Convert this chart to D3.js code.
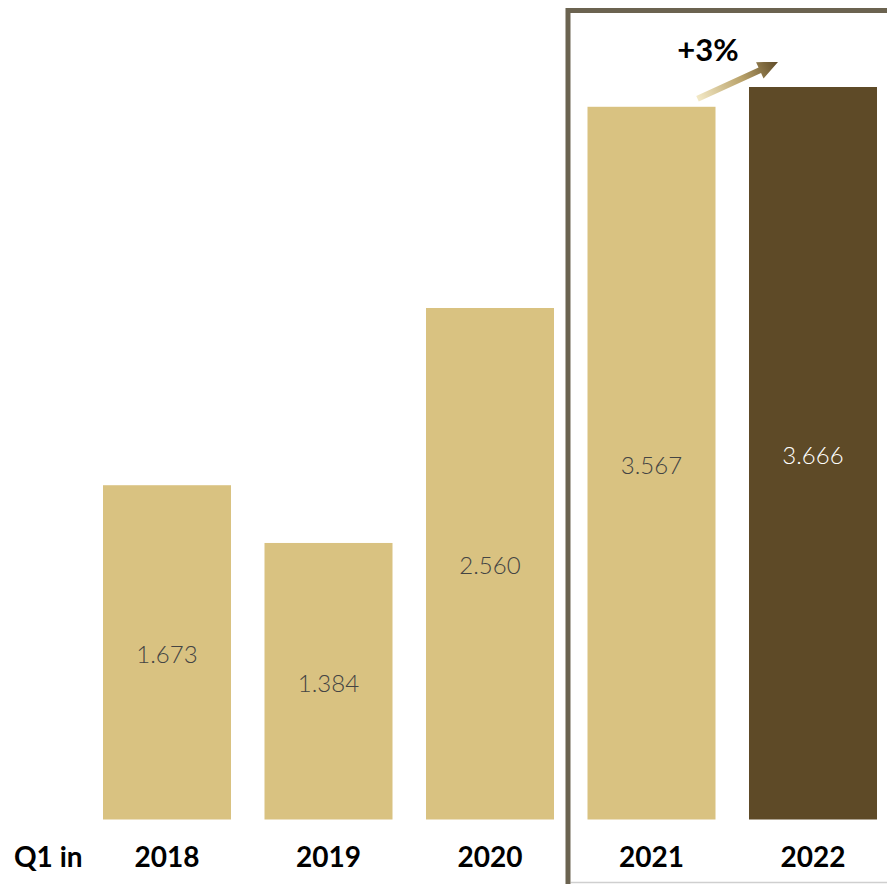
<!DOCTYPE html>
<html>
<head>
<meta charset="utf-8">
<script src="https://cdn.jsdelivr.net/npm/d3@7"></script>
<style>
  html, body { margin: 0; padding: 0; background: #fff; }
  svg { display: block; }
</style>
</head>
<body>
<div id="chart"></div>
<script>
// Q1 totals per year
const years = ["2018", "2019", "2020", "2021", "2022"];
const values = [1673, 1384, 2560, 3567, 3666];
const rowLabel = "Q1 in";
const changeLabel = "+3%";
const highlightYears = ["2021", "2022"];

const W = 887, H = 884;
const gold = "#d9c281", brown = "#5e4a27";

const svg = d3.select("#chart").append("svg")
  .attr("width", W).attr("height", H);

const defs = svg.append("defs");
const grad = defs.append("linearGradient")
  .attr("id", "arrowGrad")
  .attr("gradientUnits", "userSpaceOnUse");

const x = d3.scaleBand()
  .domain(years)
  .range([86.25, 893.75])
  .paddingInner(0.2074)
  .paddingOuter(0.1037);

const y = d3.scaleLinear()
  .domain([0, 3666])
  .range([819.5, 87]);

const fmt = d3.formatLocale({ decimal: ",", thousands: ".", grouping: [3], currency: ["", "€"] }).format(",d");

// frame around the latest two years
const hx = x(highlightYears[0]) - 19.5;
svg.append("line")
  .attr("x1", hx + 2.5).attr("x2", W)
  .attr("y1", 882.5).attr("y2", 882.5)
  .attr("stroke", "#cfcfcf").attr("stroke-width", 1.5);
svg.append("path")
  .attr("d", `M${hx},${H + 5} L${hx},10.5 L${W + 5},10.5`)
  .attr("fill", "none")
  .attr("stroke", "#6b6350")
  .attr("stroke-width", 5);

// bars
svg.selectAll("rect.bar")
  .data(years)
  .join("rect")
  .attr("class", "bar")
  .attr("x", d => x(d))
  .attr("width", x.bandwidth())
  .attr("y", (d, i) => y(values[i]))
  .attr("height", (d, i) => y(0) - y(values[i]))
  .attr("fill", d => d === "2022" ? brown : gold);

// value labels in the middle of each bar
svg.selectAll("text.val")
  .data(years)
  .join("text")
  .attr("class", "val")
  .attr("x", d => x(d) + x.bandwidth() / 2)
  .attr("y", (d, i) => (y(values[i]) + y(0)) / 2 + 1)
  .attr("text-anchor", "middle")
  .attr("dominant-baseline", "central")
  .attr("font-family", "Lato, 'Open Sans', sans-serif")
  .attr("font-weight", 300)
  .attr("font-size", 24)
  .attr("fill", d => d === "2022" ? "#ffffff" : "#444444")
  .text((d, i) => fmt(values[i]));

// category labels
const labelFont = "Lato, 'Open Sans', sans-serif";
svg.selectAll("text.year")
  .data(years)
  .join("text")
  .attr("class", "year")
  .attr("x", d => x(d) + x.bandwidth() / 2)
  .attr("y", 867)
  .attr("text-anchor", "middle")
  .attr("font-family", labelFont)
  .attr("font-weight", 700)
  .attr("font-size", 28)
  .attr("fill", "#000")
  .text(d => d);

svg.append("text")
  .attr("x", 14).attr("y", 867)
  .attr("font-family", labelFont)
  .attr("font-weight", 700)
  .attr("font-size", 28)
  .attr("fill", "#000")
  .text(rowLabel);

// growth arrow between 2021 and 2022
const a0 = [x("2021") + 110, y(values[3]) - 8];
const a1 = [x("2022") + 29, y(values[4]) - 25];
const ang = Math.atan2(a1[1] - a0[1], a1[0] - a0[0]);
const len = Math.hypot(a1[0] - a0[0], a1[1] - a0[1]);
const headL = 20, headW = 9, shaftW = 3;

// gradient runs along the arrow's own (rotated) axis
grad.attr("x1", 0).attr("y1", 0).attr("x2", len).attr("y2", 0);
grad.append("stop").attr("offset", "0%").attr("stop-color", "#f3e9c6");
grad.append("stop").attr("offset", "55%").attr("stop-color", "#b9a26a");
grad.append("stop").attr("offset", "100%").attr("stop-color", "#5f4b28");

const g = svg.append("g")
  .attr("transform", `translate(${a0[0]},${a0[1]}) rotate(${ang * 180 / Math.PI})`);
g.append("path")
  .attr("d", `M0,${-shaftW} L${len - headL},${-shaftW} L${len - headL},${-headW} L${len},0 L${len - headL},${headW} L${len - headL},${shaftW} L0,${shaftW} Z`)
  .attr("fill", "url(#arrowGrad)");

svg.append("text")
  .attr("x", 708).attr("y", 61)
  .attr("text-anchor", "middle")
  .attr("font-family", labelFont)
  .attr("font-weight", 700)
  .attr("font-size", 31)
  .attr("fill", "#000")
  .text(changeLabel);
</script>
</body>
</html>
